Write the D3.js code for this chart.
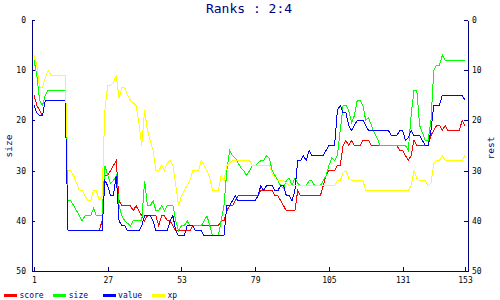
<!DOCTYPE html>
<html><head><meta charset="utf-8">
<script src="https://cdn.jsdelivr.net/npm/d3@7"></script>
<style>body{margin:0;background:#fff}svg{display:block}</style>
</head><body>
<svg id="chart" width="500" height="300"></svg>
<script>
const chartTitle = "Ranks : 2:4";
const leftLabel = "size";
const rightLabel = "rest";
const seriesNames = ["score", "size", "value", "xp"];
const xTicks = [1, 27, 53, 79, 105, 131, 153];
const yTicks = [0, 10, 20, 30, 40, 50];

const score = [
15,17,18,19,16,16,16,16,16,16,
16,16,42,42,42,42,42,42,42,42,
42,42,42,42,40,31,31,30,29,28,
36,37,37,37,37,38,37,38,39,40,
39,39,39,39,41,39,39,40,40,41,
42,42,42,42,42,42,41,41,41,41,
41,41,41,41,41,41,40,40,38,37,
37,36,35,35,35,35,35,35,35,35,
34,34,34,34,34,35,35,36,37,38,
38,38,38,34,35,35,35,35,35,35,
35,35,33,31,30,30,30,29,29,25,
24,25,24,25,25,25,24,24,24,25,
25,25,25,25,25,25,25,25,25,26,
26,27,28,27,24,25,25,25,25,25,
23,22,21,21,22,21,22,22,22,22,
22,20,21];

const size = [
8,11,16,17,15,14,14,14,14,14,
14,14,36,36,37,38,39,40,39,39,
39,37.5,39,39,39,29,31,32.5,32,31,
37,39,40,40.5,41,40,40,40,40,32,
37,37,36,38,38,37,38,37,37,37,
40,42,41,41,40,41,41,41,41,41,
40,39,41,43,43,43,40,37,30,26,
27,27.5,28.5,29.5,30,31,30,29,29,28.5,
28,28,27,27.5,30,31,32,33,33.5,32,
31.5,33,31.5,32.5,33,33,33,32,32,33,
33,33,32,31,29,27.5,28,27,22,17,
17,18,20.5,19,16,16,17,20,19.5,21,
22.5,23.5,25,25,25,25,25,25,25,25,
25,25,26,19,14,14,21,22.5,24,24,
20,10,9,9,7,8,8,8,8,8,
8,8,8];

const value = [
17,18.5,19,19,16,16,16,16,16,16,
16,16,42,42,42,42,42,42,42,42,
42,42,42,42,42,32,33,35,35,31,
40,41,41,42,42,42,42,42,41,39,
39,39,40,42,42,42,42,42,40,39,
42,43,43,43,41,41,41,42,42,42,
43,43,43,43,43,43,43,43,37,37,
36,35,36,36,36,36,36,36,36,35,
33,34,33,33,33,34,34,33,33,35,
35,36,34,28,28,27,28,26,27,27,
27,27,27,26,25,25,25,18,17,18.5,
18.5,21,22,21,20,20,20,21,22,22,
22,22,22,22,22,22,23,23,23,22,
22,24,23.5,22,23,23,23,24,25,25,
22,17,17,17,15,15,15,15,15,15,
15,15,16];

const xp = [
7,9,13.5,13.5,11.5,10,11,11,11,11,
11,11,30,30,31,32.5,34,34,35,36,
36,34,34,36,35,18,13,13,12.5,11,
15.5,13.5,13.5,15,16,16.5,17,20.5,25,18,
22,24,26,30,30,29,30,28.5,28,29,
33,37,35,34,33,32,30,30,30,28,
29,30,31.5,34,34,34,31,32,29,28.5,
28,28,28,28,28,28,28,29,29,29,
29,29,29,29,30.5,31.5,32,32,32,32.5,
33,33,33,33,33,33,33,33,33,33,
33,33,33,33,33,33,33,32,32,30.5,
30,31.5,32,32,32,32,32,34,34,34,
34,34,34,34,34,34,34,34,34,34,
34,34,34,33,30,31.5,32,32,32,33,
32.5,28.5,28,28,27,28,28,28,28,28,
28,28,27];

const seriesData = [score, size, value, xp];
const colors = ["#ff0000", "#00ff00", "#0000ff", "#ffff00"];
const navy = "#000080";
const mono = "'DejaVu Sans Mono', 'Liberation Mono', monospace";

const svg = d3.select("#chart");
const x = d3.scaleLinear().domain([1, 153]).range([34, 465]);
const y = d3.scaleLinear().domain([0, 50]).range([20, 271]);
const frameLeft = 32, frameRight = 468;

// title
svg.append("text").attr("x", 249).attr("y", 13).attr("text-anchor", "middle")
  .attr("font-family", mono).attr("font-size", 13).attr("fill", navy).text(chartTitle);

// series lines
const line = d3.line().x((d, i) => x(i + 1)).y(d => y(d));
seriesData.forEach((arr, k) => {
  svg.append("path").datum(arr).attr("d", line)
    .attr("fill", "none").attr("stroke", colors[k]).attr("stroke-width", 1)
    .attr("shape-rendering", "crispEdges");
});

function styleAxis(g) {
  g.selectAll("path,line").attr("stroke", navy).attr("shape-rendering", "crispEdges");
  g.selectAll("text").attr("fill", "#000").attr("font-family", mono).attr("font-size", 8);
}

// left axis
const gl = svg.append("g").attr("transform", `translate(${frameLeft},0)`)
  .call(d3.axisLeft(y).tickValues(yTicks).tickSizeInner(-3).tickSizeOuter(0).tickPadding(6));
styleAxis(gl);
// right axis
const gr = svg.append("g").attr("transform", `translate(${frameRight},0)`)
  .call(d3.axisRight(y).tickValues(yTicks).tickSizeInner(-4).tickSizeOuter(0).tickPadding(4));
styleAxis(gr);
// bottom axis
const gb = svg.append("g").attr("transform", `translate(0,${y(50)})`)
  .call(d3.axisBottom(x).tickValues(xTicks).tickSizeInner(-4).tickSizeOuter(0).tickPadding(6));
gb.select(".domain").remove();
gb.append("line").attr("x1", frameLeft + 0.5).attr("x2", frameRight + 0.5).attr("y1", 0.5).attr("y2", 0.5);
styleAxis(gb);

// axis labels
svg.append("text").attr("transform", `translate(12,146) rotate(-90)`).attr("text-anchor", "middle")
  .attr("font-family", mono).attr("font-size", 9.5).attr("fill", navy).text(leftLabel);
svg.append("text").attr("transform", `translate(494,148) rotate(-90)`).attr("text-anchor", "middle")
  .attr("font-family", mono).attr("font-size", 9.5).attr("fill", navy).text(rightLabel);

// legend
const lg = svg.append("g");
seriesNames.forEach((name, k) => {
  const gx = 4 + k * 49.3;
  lg.append("rect").attr("x", gx).attr("y", 294).attr("width", 13).attr("height", 2.6)
    .attr("fill", colors[k]).attr("shape-rendering", "crispEdges");
  lg.append("text").attr("x", gx + 15.5).attr("y", 298)
    .attr("font-family", mono).attr("font-size", 8).attr("fill", navy).text(name);
});
</script>
</body></html>
